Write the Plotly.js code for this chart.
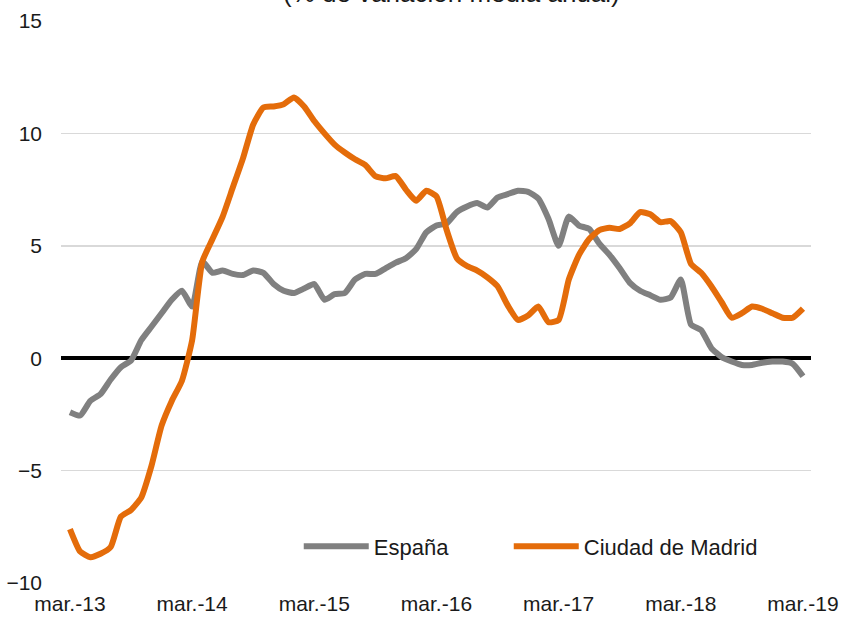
<!DOCTYPE html>
<html>
<head>
<meta charset="utf-8">
<script src="https://cdn.plot.ly/plotly-3.0.1.min.js"></script>
<style>
html,body{margin:0;padding:0;background:#fff;}
#chart{width:844px;height:618px;}
</style>
</head>
<body>
<div id="chart"></div>
<script>
// Monthly categories, mar.-13 .. mar.-19
var monthAbbr = ["mar.","abr.","may.","jun.","jul.","ago.","sep.","oct.","nov.","dic.","ene.","feb."];
var startYear = 13;
var nMonths = 73;
var categories = [];
for (var k = 0; k < nMonths; k++) {
  var yy = startYear + Math.floor((k + 2) / 12);
  categories.push(monthAbbr[k % 12] + "-" + yy);
}
var tickLabels = ["mar.-13","mar.-14","mar.-15","mar.-16","mar.-17","mar.-18","mar.-19"];

var espana = [
  -2.4, -2.55, -1.9, -1.6, -0.95, -0.4, -0.1, 0.8, 1.4, 2.0,
  2.6, 3.0, 2.3, 4.3, 3.8, 3.9, 3.75, 3.7, 3.9, 3.8,
  3.3, 3.0, 2.9, 3.1, 3.3, 2.6, 2.85, 2.9, 3.5, 3.75,
  3.75, 4.0, 4.25, 4.45, 4.85, 5.6, 5.9, 6.0, 6.5, 6.75,
  6.9, 6.7, 7.15, 7.3, 7.45, 7.4, 7.1, 6.2, 5.0, 6.3,
  5.9, 5.75, 5.1, 4.6, 4.0, 3.35, 3.0, 2.8, 2.6, 2.7,
  3.5, 1.5, 1.25, 0.45, 0.05, -0.15, -0.3, -0.3, -0.2, -0.15,
  -0.15, -0.25, -0.8
];

var madrid = [
  -7.6, -8.6, -8.85, -8.7, -8.4, -7.05, -6.75, -6.2, -4.8, -3.0,
  -1.9, -1.0, 0.8, 4.3, 5.3, 6.3, 7.6, 8.9, 10.4, 11.15,
  11.2, 11.3, 11.6, 11.2, 10.55, 10.0, 9.5, 9.15, 8.85, 8.6,
  8.1, 8.0, 8.1, 7.5, 7.0, 7.45, 7.2, 5.7, 4.45, 4.1,
  3.9, 3.6, 3.2, 2.35, 1.7, 1.9, 2.3, 1.6, 1.7, 3.5,
  4.6, 5.3, 5.7, 5.8, 5.75, 6.0, 6.5, 6.4, 6.05, 6.1,
  5.6, 4.2, 3.8, 3.2, 2.5, 1.8, 2.0, 2.3, 2.2, 2.0,
  1.8, 1.8, 2.2
];

var FONT = "Liberation Sans, Arial, sans-serif";

var traces = [
  {x: categories, y: espana, type: "scatter", mode: "lines", name: "España",
   legend: "legend",
   line: {color: "#808080", width: 6, shape: "spline", smoothing: 0.5}},
  {x: categories, y: madrid, type: "scatter", mode: "lines", name: "Ciudad de Madrid",
   legend: "legend2",
   line: {color: "#E46C0A", width: 6, shape: "spline", smoothing: 0.5}}
];

var legendBase = {
  orientation: "h", xanchor: "left", y: 0.065, yanchor: "middle",
  font: {family: FONT, size: 22, color: "#1a1a1a"},
  itemwidth: 65, bgcolor: "rgba(0,0,0,0)"
};

var layout = {
  width: 844, height: 618,
  margin: {l: 61, r: 33, t: 21, b: 35},
  paper_bgcolor: "#ffffff", plot_bgcolor: "#ffffff",
  font: {family: FONT, size: 21, color: "#1a1a1a"},
  showlegend: true,
  legend: Object.assign({}, legendBase, {x: 0.317}),
  legend2: Object.assign({}, legendBase, {x: 0.597}),
  xaxis: {
    type: "category",
    range: [-0.88, 72.79],
    tickmode: "array", tickvals: tickLabels, ticktext: tickLabels,
    showgrid: false, zeroline: false, showline: false, ticks: "",
    ticklabelstandoff: 6,
    tickfont: {family: FONT, size: 21, color: "#1a1a1a"},
    fixedrange: true
  },
  yaxis: {
    range: [-10, 15],
    tickvals: [-10, -5, 0, 5, 10, 15],
    showgrid: true, gridcolor: "#d9d9d9", gridwidth: 1.5,
    zeroline: true, zerolinecolor: "#000000", zerolinewidth: 4,
    showline: false, ticks: "",
    ticklabelstandoff: 18,
    tickfont: {family: FONT, size: 21, color: "#1a1a1a"},
    fixedrange: true
  },
  annotations: [{
    text: "(% de variación media anual)",
    xref: "paper", yref: "paper", x: 0.52, y: 1.05, xanchor: "center", yanchor: "middle",
    showarrow: false, font: {family: FONT, size: 26, color: "#1a1a1a"}
  }]
};

Plotly.newPlot("chart", traces, layout, {displayModeBar: false, staticPlot: true});
</script>
</body>
</html>
